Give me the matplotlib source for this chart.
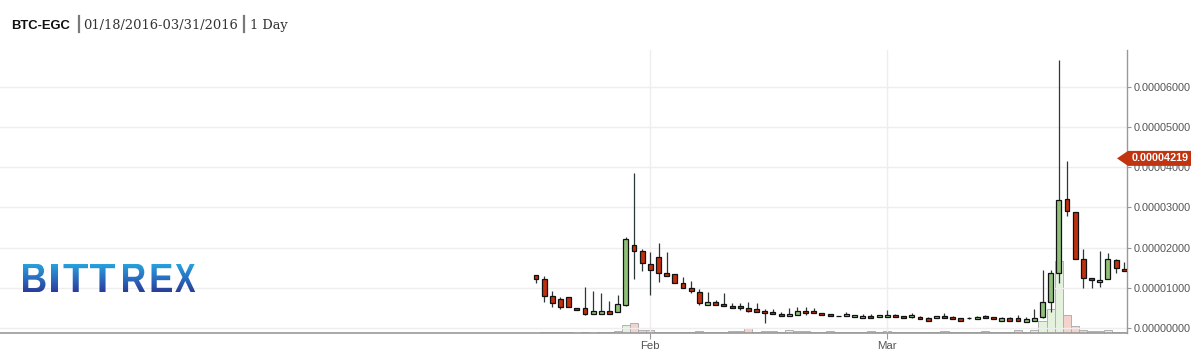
import numpy as np
import pandas as pd
import matplotlib
matplotlib.use("Agg")
import matplotlib.pyplot as plt
import matplotlib.dates as mdates
from matplotlib.textpath import TextPath
from matplotlib.font_manager import FontProperties
from matplotlib.patches import PathPatch, Polygon
from matplotlib.lines import Line2D
from matplotlib.path import Path
from matplotlib.colors import LinearSegmentedColormap
from matplotlib.ticker import FuncFormatter

# ---------------- data (prices in units of 1e-5 BTC) ----------------
dates = pd.date_range("2016-01-18", "2016-03-30", freq="D")
opens = [1.31, 1.22, 0.80, 0.72, 0.76, 0.49, 0.49, 0.36, 0.36, 0.42,
         0.39, 0.57, 2.07, 1.92, 1.59, 1.76, 1.36, 1.34, 1.11, 1.00,
         0.89, 0.58, 0.64, 0.60, 0.54, 0.54, 0.49, 0.47, 0.42, 0.39,
         0.35, 0.29, 0.32, 0.42, 0.42, 0.37, 0.35, 0.29, 0.30, 0.27,
         0.24, 0.30, 0.27, 0.27, 0.32, 0.30, 0.27, 0.27, 0.24, 0.24,
         0.30, 0.27, 0.24, 0.24, 0.22, 0.30, 0.27, 0.18, 0.24, 0.24,
         0.16, 0.18, 0.27, 0.64, 1.36, 3.20, 2.88, 1.71, 1.24, 1.14,
         1.21, 1.68, 1.46]
highs = [1.31, 1.29, 0.92, 0.76, 0.76, 0.49, 1.02, 0.91, 0.86, 0.66,
         0.82, 2.27, 3.85, 1.97, 1.89, 2.12, 1.90, 1.34, 1.26, 1.17,
         0.97, 0.89, 0.70, 0.86, 0.61, 0.61, 0.65, 0.61, 0.47, 0.47,
         0.40, 0.49, 0.52, 0.52, 0.50, 0.37, 0.36, 0.30, 0.39, 0.33,
         0.35, 0.35, 0.32, 0.45, 0.35, 0.30, 0.37, 0.31, 0.28, 0.30,
         0.38, 0.31, 0.24, 0.27, 0.31, 0.33, 0.27, 0.27, 0.28, 0.32,
         0.28, 0.47, 1.44, 1.44, 6.67, 4.16, 2.88, 1.97, 1.24, 1.92,
         1.87, 1.71, 1.63]
lows = [1.11, 0.65, 0.53, 0.48, 0.51, 0.44, 0.32, 0.36, 0.36, 0.36,
        0.39, 0.555, 1.21, 1.43, 0.83, 1.15, 1.30, 1.11, 0.99, 0.88,
        0.57, 0.58, 0.58, 0.54, 0.49, 0.44, 0.39, 0.405, 0.13, 0.34,
        0.29, 0.29, 0.32, 0.32, 0.37, 0.32, 0.30, 0.29, 0.30, 0.27,
        0.24, 0.24, 0.27, 0.27, 0.27, 0.24, 0.25, 0.22, 0.18, 0.24,
        0.24, 0.22, 0.18, 0.23, 0.22, 0.24, 0.22, 0.18, 0.18, 0.18,
        0.16, 0.18, 0.26, 0.41, 1.11, 2.79, 1.71, 1.00, 1.00, 1.03,
        1.21, 1.36, 1.41]
closes = [1.21, 0.79, 0.63, 0.53, 0.52, 0.44, 0.36, 0.42, 0.42, 0.36,
          0.60, 2.21, 1.91, 1.61, 1.44, 1.36, 1.30, 1.11, 0.99, 0.91,
          0.61, 0.64, 0.58, 0.54, 0.49, 0.49, 0.43, 0.41, 0.37, 0.34,
          0.29, 0.35, 0.42, 0.37, 0.37, 0.32, 0.30, 0.295, 0.35, 0.32,
          0.30, 0.24, 0.32, 0.32, 0.27, 0.24, 0.32, 0.22, 0.18, 0.30,
          0.24, 0.22, 0.18, 0.245, 0.27, 0.24, 0.22, 0.24, 0.18, 0.18,
          0.22, 0.24, 0.64, 1.36, 3.18, 2.90, 1.71, 1.24, 1.19, 1.19,
          1.71, 1.49, 1.41]
volumes = [0.2, 1.2, 1.2, 1.2, 1.2, 0.2, 1.2, 0.3, 1.0, 1.0,
           2.0, 8.0, 10.0, 3.2, 3.2, 1.2, 1.2, 1.2, 1.2, 1.2,
           2.2, 1.0, 1.0, 1.2, 2.0, 2.0, 4.8, 1.2, 2.0, 2.0,
           1.2, 2.8, 2.0, 2.0, 1.2, 1.2, 2.0, 1.0, 1.0, 1.0,
           1.2, 2.0, 1.2, 2.0, 1.2, 1.2, 1.2, 1.2, 1.2, 1.2,
           2.0, 1.0, 1.0, 1.0, 1.0, 2.0, 1.0, 1.0, 1.0, 2.7,
           1.2, 3.3, 12.3, 24.0, 71.7, 18.3, 7.3, 3.3, 1.7, 2.3,
           3.3, 1.5, 1.2]
last_price = 4.219
price_ticks = [0, 1, 2, 3, 4, 5, 6]
month_ticks = ["2016-02-01", "2016-03-01"]
month_labels = ["Feb", "Mar"]
title_pair = "BTC-EGC"
title_range = "01/18/2016-03/31/2016"
title_interval = "1 Day"
logo_text = "BITTREX"

# ---------------- figure ----------------
W, H = 1191, 352
fig = plt.figure(figsize=(W / 100, H / 100), dpi=100)
fig.patch.set_facecolor("white")

ax = fig.add_axes([0, 19 / H, 1127 / W, 283 / H])
axv = ax.twinx()
ax.set_zorder(2)
axv.set_zorder(1)
ax.patch.set_visible(False)

x = mdates.date2num(dates.to_pydatetime())
o = np.array(opens) * 1e-5
h = np.array(highs) * 1e-5
l = np.array(lows) * 1e-5
c = np.array(closes) * 1e-5
v = np.array(volumes)
up = c >= o

RED = "#c0300e"
GREEN = "#8fc179"
VRED = "#f3d3cc"
VGREEN = "#e4f1dc"

# volume
axv.bar(x, v, width=1.0, color=np.where(up, VGREEN, VRED),
        edgecolor="#b0b0b0", linewidth=0.7, align="center")
axv.set_ylim(0, max(volumes) * 3.95)
axv.set_yticks([])
for s in axv.spines.values():
    s.set_visible(False)

# candles
ax.vlines(x, l, h, color="#2c3838", linewidth=0.9, zorder=3)
body_low = np.minimum(o, c)
body_h = np.abs(c - o)
ax.bar(x, body_h, bottom=body_low, width=0.6,
       color=np.where(up, GREEN, RED), edgecolor="#111111",
       linewidth=0.9, zorder=4)

# axes limits
x0 = mdates.date2num(pd.Timestamp("2016-01-18").to_pydatetime())
ax.set_xlim(x0 - 65.6, x0 + 72.34)
ax.set_ylim(-0.1244e-5, 6.9154e-5)

# grid & spines
ax.set_yticks([t * 1e-5 for t in price_ticks])
ax.set_xticks(mdates.date2num([pd.Timestamp(d).to_pydatetime() for d in month_ticks]))
ax.set_xticklabels(month_labels)
ax.grid(True, color="#eeeeee", linewidth=1.0, zorder=0)
ax.set_axisbelow(True)
ax.yaxis.tick_right()
ax.yaxis.set_major_formatter(FuncFormatter(lambda val, pos: f"{val:.8f}"))
for side in ["top", "left"]:
    ax.spines[side].set_visible(False)
ax.spines["right"].set_color("#999999")
ax.spines["bottom"].set_color("#999999")
ax.spines["right"].set_linewidth(1.0)
ax.spines["bottom"].set_linewidth(1.2)
ax.tick_params(axis="y", colors="#999999", length=3, width=0.8, pad=1.5,
               labelcolor="#555555", labelsize=7.8)
ax.tick_params(axis="x", colors="#999999", length=4, width=0.8, pad=2,
               labelcolor="#555555", labelsize=8.2)
for lab in ax.get_yticklabels() + ax.get_xticklabels():
    lab.set_fontfamily("Liberation Sans")

# price tag
fig.canvas.draw()
yd = ax.transData.transform((x0, last_price * 1e-5))[1]
tag = Polygon([(1117, yd), (1128, yd + 7.5), (1191, yd + 7.5),
               (1191, yd - 7.5), (1128, yd - 7.5)], closed=True,
              transform=None, facecolor="#c2330f", edgecolor="none", zorder=10)
fig.add_artist(tag)
fig.text(1160 / W, yd / H, f"{last_price * 1e-5:.8f}", color="white",
         fontsize=7.8, fontweight="bold", family="Liberation Sans",
         ha="center", va="center", zorder=11)

# title
base = 1 - 28.7 / H
fig.text(11 / W, base, title_pair, fontsize=9.4, fontweight="bold",
         family="Liberation Sans", color="#111111", va="baseline")
fig.text(83 / W, base, title_range, fontsize=9.4, family="DejaVu Serif",
         color="#333333", va="baseline")
fig.text(250 / W, base, title_interval, fontsize=9.4, family="DejaVu Serif",
         color="#333333", va="baseline")
for bx in [78.5, 244.5]:
    fig.add_artist(Line2D([bx / W, bx / W], [1 - 16 / H, 1 - 31.5 / H],
                          transform=fig.transFigure, color="#7a7a7a",
                          linewidth=1.6))

# logo with vertical gradient, letters placed in measured pixel boxes
LX0, LX1, LY0, LY1 = 23, 195.5, 263.5, 292.5
lax = fig.add_axes([LX0 / W, (H - LY1) / H, (LX1 - LX0) / W, (LY1 - LY0) / H])
lax.set_zorder(5)
lax.set_xlim(LX0, LX1)
lax.set_ylim(0, 1)
lax.axis("off")
letter_boxes = [(23, 45.5), (51, 58), (63.5, 88), (90, 115), (123, 145.5),
                (151.5, 172), (175, 195.5)]
fp = FontProperties(family="Liberation Sans", weight="bold")
all_v, all_c = [], []
for ch, (bx0, bx1) in zip(logo_text, letter_boxes):
    tp = TextPath((0, 0), ch, size=10, prop=fp)
    vv = tp.vertices.copy()
    e = tp.get_extents()
    vv[:, 0] = bx0 + (vv[:, 0] - e.x0) / e.width * (bx1 - bx0)
    vv[:, 1] = (vv[:, 1] - e.y0) / e.height
    all_v.append(vv)
    all_c.append(tp.codes)
lp = Path(np.vstack(all_v), np.concatenate(all_c))
patch = PathPatch(lp, transform=lax.transData, facecolor="none", edgecolor="none")
lax.add_patch(patch)
cmap = LinearSegmentedColormap.from_list("logo", ["#2b3c97", "#2a70c2", "#28a6de"])
grad = np.linspace(0, 1, 256).reshape(-1, 1)
im = lax.imshow(grad, extent=(LX0, LX1, 0, 1), origin="lower", aspect="auto", cmap=cmap)
im.set_clip_path(patch)

fig.savefig("out.png", dpi=100)
